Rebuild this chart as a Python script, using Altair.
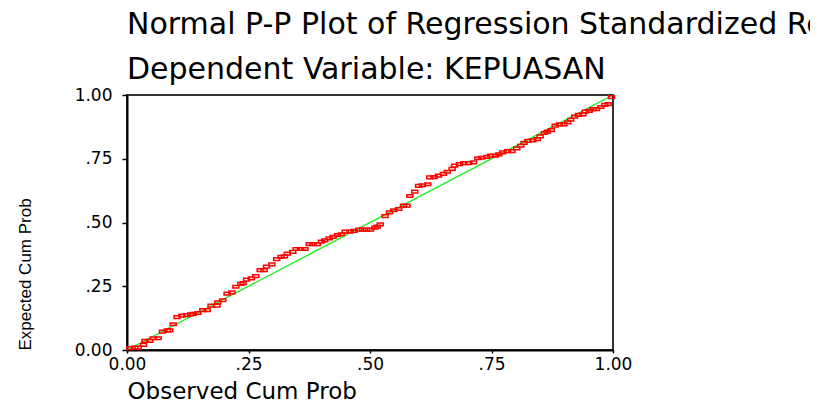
import altair as alt
import pandas as pd

# Observed cumulative probability (x) and expected cumulative probability (y)
x_obs = [0.006, 0.016, 0.023, 0.034, 0.037, 0.047, 0.054, 0.064, 0.073, 0.083,
         0.088, 0.095, 0.103, 0.113, 0.123, 0.131, 0.136, 0.146, 0.156, 0.165,
         0.173, 0.185, 0.187, 0.197, 0.206, 0.216, 0.224, 0.234, 0.239, 0.246,
         0.256, 0.265, 0.274, 0.282, 0.287, 0.298, 0.308, 0.317, 0.324, 0.330,
         0.341, 0.348, 0.357, 0.366, 0.375, 0.383, 0.392, 0.400, 0.407, 0.416,
         0.424, 0.433, 0.441, 0.449, 0.459, 0.467, 0.477, 0.485, 0.493, 0.501,
         0.510, 0.515, 0.521, 0.531, 0.540, 0.549, 0.559, 0.569, 0.576, 0.582,
         0.592, 0.600, 0.608, 0.619, 0.623, 0.632, 0.641, 0.651, 0.659,
         0.669, 0.674, 0.684, 0.693, 0.703, 0.713, 0.722, 0.730, 0.740, 0.748,
         0.758, 0.765, 0.773, 0.783, 0.792, 0.802, 0.810, 0.817, 0.825, 0.835,
         0.844, 0.850, 0.859, 0.865, 0.873, 0.881, 0.890, 0.899, 0.907, 0.913,
         0.921, 0.929, 0.938, 0.943, 0.951, 0.959, 0.966, 0.975, 0.983, 0.990,
         0.997]

y_exp = [0.007, 0.009, 0.009, 0.020, 0.036, 0.036, 0.046, 0.046, 0.072, 0.077,
         0.077, 0.101, 0.129, 0.135, 0.137, 0.140, 0.142, 0.145, 0.156, 0.156,
         0.174, 0.174, 0.187, 0.195, 0.221, 0.226, 0.248, 0.259, 0.262, 0.276,
         0.281, 0.290, 0.313, 0.313, 0.327, 0.336, 0.356, 0.365, 0.367, 0.378,
         0.385, 0.396, 0.396, 0.396, 0.415, 0.415, 0.415, 0.425, 0.430, 0.438,
         0.444, 0.451, 0.454, 0.464, 0.464, 0.467, 0.472, 0.472, 0.472, 0.472,
         0.480, 0.484, 0.493, 0.525, 0.540, 0.548, 0.553, 0.566, 0.566, 0.604,
         0.621, 0.644, 0.646, 0.650, 0.677, 0.678, 0.684, 0.691, 0.699,
         0.710, 0.723, 0.729, 0.733, 0.733, 0.736, 0.752, 0.754, 0.757, 0.762,
         0.762, 0.767, 0.775, 0.780, 0.780, 0.791, 0.801, 0.812, 0.820, 0.822,
         0.827, 0.838, 0.851, 0.856, 0.862, 0.880, 0.885, 0.885, 0.893, 0.903,
         0.915, 0.922, 0.924, 0.935, 0.938, 0.945, 0.945, 0.953, 0.961, 0.964,
         0.992]

ref_x = [0.0, 1.0]
ref_y = [0.0, 1.0]
tick_vals = [0.0, 0.25, 0.5, 0.75, 1.0]

title_lines = ["Normal P-P Plot of Regression Standardized Residual",
               "Dependent Variable: KEPUASAN"]

pts = pd.DataFrame({"obs": x_obs, "exp": y_exp})
ref = pd.DataFrame({"obs": ref_x, "exp": ref_y})

label_expr = ("datum.value > 0 && datum.value < 1 ? "
              "substring(format(datum.value, '.2f'), 1) : format(datum.value, '.2f')")

FONT = "DejaVu Sans"

xscale = alt.Scale(domain=[0, 1], nice=False, zero=False)
yscale = alt.Scale(domain=[0, 1], nice=False, zero=False)

x_axis = alt.Axis(values=tick_vals, labelExpr=label_expr, grid=False,
                  labelFlush=False, labelOverlap=False,
                  domainColor="black", domainWidth=2, tickColor="black",
                  tickWidth=1.5, tickSize=3, labelPadding=3,
                  labelFont=FONT, labelFontSize=17, labelColor="black",
                  title="Observed Cum Prob", titleFont=FONT, titleFontSize=23,
                  titleFontWeight="normal", titleColor="black",
                  titleX=0, titleY=48, titleAlign="left",
                  titleBaseline="alphabetic")

y_axis = alt.Axis(values=tick_vals, labelExpr=label_expr, grid=False,
                  labelFlush=False, labelOverlap=False,
                  domainColor="black", domainWidth=2, tickColor="black",
                  tickWidth=1.5, tickSize=5, labelPadding=10,
                  labelFont=FONT, labelFontSize=17, labelColor="black",
                  title="Expected Cum Prob",
                  titleFont="Liberation Sans",
                  titleFontSize=17, titleFontWeight="normal", titleColor="black",
                  titleAngle=270, titleX=-102, titleY=255,
                  titleAlign="left", titleBaseline="middle")

line = alt.Chart(ref).mark_line(color="#11ee11", strokeWidth=1.3).encode(
    x=alt.X("obs:Q", scale=xscale, axis=x_axis),
    y=alt.Y("exp:Q", scale=yscale, axis=y_axis),
)

points = alt.Chart(pts).mark_point(
    shape="M-1,-0.45H1V0.45H-1Z", size=36, filled=False,
    stroke="#ff0000", strokeWidth=1.5, opacity=1
).encode(
    x=alt.X("obs:Q", scale=xscale),
    y=alt.Y("exp:Q", scale=yscale),
)

chart = alt.layer(line, points).properties(
    width=486, height=255,
    background="white",
    autosize=alt.AutoSizeParams(type="none"),
    padding={"left": 119, "top": 87, "right": 197, "bottom": 52},
    title=alt.TitleParams(text=title_lines, anchor="start", frame="group",
                          font=FONT, fontSize=30, fontWeight="normal",
                          color="black", lineHeight=45, offset=18, dy=41,
                          baseline="alphabetic"),
).configure_view(stroke="#333333", strokeWidth=2)

chart.save("out.html", embed_options={"renderer": "svg", "actions": False})
